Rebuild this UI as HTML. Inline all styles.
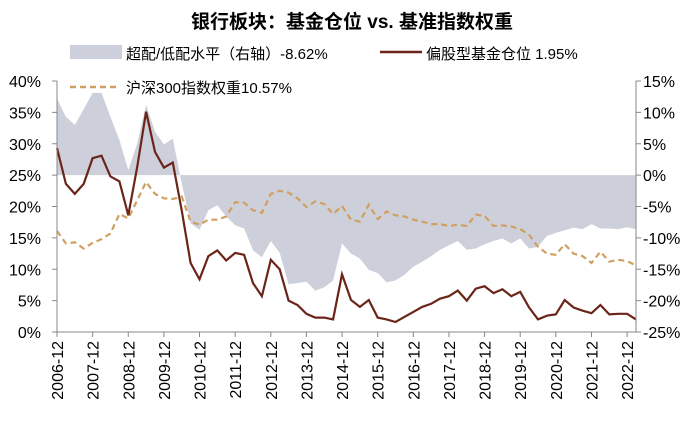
<!DOCTYPE html>
<html><head><meta charset="utf-8">
<style>
body{margin:0;background:#fff;width:700px;height:431px;overflow:hidden;font-family:"Liberation Sans","Noto Sans CJK SC",sans-serif;}
svg text{font-family:"Liberation Sans","Noto Sans CJK SC",sans-serif;}
</style></head>
<body>
<svg id="chart" width="700" height="431" xmlns="http://www.w3.org/2000/svg">
<text x="352" y="28" text-anchor="middle" font-size="19" font-weight="bold" fill="#000">银行板块：基金仓位 vs. 基准指数权重</text>
<g>
<rect x="70" y="45" width="52" height="14" fill="#cdd0da"/>
<text x="126" y="59" font-size="15">超配/低配水平（右轴）-8.62%</text>
<line x1="380" y1="52" x2="422" y2="52" stroke="#6b2418" stroke-width="2.5"/>
<text x="426" y="59" font-size="15">偏股型基金仓位 1.95%</text>
<line x1="70" y1="87" x2="120" y2="87" stroke="#d0a060" stroke-width="2.5" stroke-dasharray="6,4"/>
<text x="126" y="93" font-size="15">沪深300指数权重10.57%</text>
</g>
<g id="plot"></g>
</svg>
<script>
const yearTicks = ["2006-12","2007-12","2008-12","2009-12","2010-12","2011-12","2012-12","2013-12","2014-12","2015-12","2016-12","2017-12","2018-12","2019-12","2020-12","2021-12","2022-12"];
const leftTicks = [0,5,10,15,20,25,30,35,40];
const rightTicks = [-25,-20,-15,-10,-5,0,5,10,15];
const fundPosition = [29.3,23.6,22.0,23.6,27.7,28.1,24.8,24.0,18.6,26.3,35.1,28.7,26.2,27.0,19.4,11.0,8.4,12.1,13.0,11.4,12.6,12.3,7.8,5.7,11.5,10.0,5.0,4.3,2.9,2.3,2.3,2.0,9.2,5.1,4.0,5.1,2.3,2.0,1.6,2.4,3.2,4.0,4.5,5.3,5.7,6.6,5.0,6.9,7.3,6.2,6.8,5.7,6.4,3.9,2.0,2.6,2.8,5.1,3.9,3.4,3.0,4.3,2.8,2.9,2.9,2.0];
const csi300Weight = [16.1,14.1,14.3,13.3,14.2,14.8,15.7,18.8,18.1,21.0,23.9,22.0,21.3,21.2,21.6,17.6,17.1,17.9,17.9,18.4,20.7,20.6,19.4,19.0,22.0,22.5,22.2,21.3,19.9,20.8,20.4,18.8,20.1,17.9,17.6,20.3,18.0,19.2,18.6,18.4,17.9,17.6,17.2,17.2,16.9,17.1,16.9,18.7,18.5,16.9,17.0,16.8,16.4,15.5,13.6,12.5,12.3,14.0,12.5,12.1,11.0,12.8,11.2,11.5,11.3,10.6];
const overweight = [12.2,9.3,8.0,10.5,13.1,13.1,9.3,5.6,0.8,5.0,11.2,6.9,4.9,5.8,-1.3,-7.7,-8.7,-5.6,-4.8,-6.6,-8.0,-8.5,-12.0,-13.1,-10.5,-12.4,-17.4,-17.2,-17.0,-18.4,-17.9,-16.8,-10.9,-12.5,-13.3,-15.1,-15.6,-17.1,-16.8,-15.9,-14.6,-13.8,-12.9,-11.9,-11.2,-10.5,-11.9,-11.7,-11.0,-10.5,-10.1,-10.9,-10.1,-11.7,-11.4,-9.7,-9.2,-8.8,-8.4,-8.6,-7.8,-8.5,-8.5,-8.6,-8.3,-8.6];

const X0=57, X1=636, YT=81, YB=332;
const n = fundPosition.length;
const qw = (X1-X0)/(n-1);
const xAt = i => X0 + i*qw;
const yL = v => YB - (v-0)/(40-0)*(YB-YT);
const yR = v => YB - (v+25)/(40)*(YB-YT);
const NS="http://www.w3.org/2000/svg";
const plot=document.getElementById('plot');
function mk(tag, attrs){const e=document.createElementNS(NS,tag);for(const k in attrs)e.setAttribute(k,attrs[k]);plot.appendChild(e);return e;}

let d='M'+xAt(0)+','+yR(0);
overweight.forEach((v,i)=>{d+=' L'+xAt(i).toFixed(1)+','+yR(v).toFixed(1);});
d+=' L'+xAt(n-1)+','+yR(0)+' Z';
const area=mk('path',{d:d,fill:'#cdd0da'});



const p2=mk('polyline',{points:csi300Weight.map((v,i)=>xAt(i).toFixed(1)+','+yL(v).toFixed(1)).join(' '),fill:'none',stroke:'#d0a060','stroke-width':2.2,'stroke-dasharray':'6,4'});



const p1=mk('polyline',{points:fundPosition.map((v,i)=>xAt(i).toFixed(1)+','+yL(v).toFixed(1)).join(' '),fill:'none',stroke:'#6b2418','stroke-width':2.2});



const ax=mk('path',{d:`M${X0},${YT} V${YB} H${X1} V${YT}`,fill:'none',stroke:'#888','stroke-width':1});


leftTicks.forEach(v=>{
  const y=yL(v);
  mk('line',{x1:X0-5,y1:y,x2:X0,y2:y,stroke:'#888'});
  const t=mk('text',{x:41,y:y+6,'text-anchor':'end','font-size':16});
  t.textContent=v+'%';
  
  
});
rightTicks.forEach(v=>{
  const y=yR(v);
  mk('line',{x1:X1,y1:y,x2:X1+5,y2:y,stroke:'#888'});
  const t=mk('text',{x:643,y:y+6,'font-size':16});
  t.textContent=v+'%';
  
  
});
yearTicks.forEach((lab,k)=>{
  const x=xAt(k*4);
  mk('line',{x1:x,y1:YB,x2:x,y2:YB+5,stroke:'#888'});
  const t=mk('text',{x:0,y:0,'text-anchor':'end','font-size':16,transform:`translate(${x+6},${YB+9}) rotate(-90)`});
  t.textContent=lab;
  
  
});
</script>
</body></html>
